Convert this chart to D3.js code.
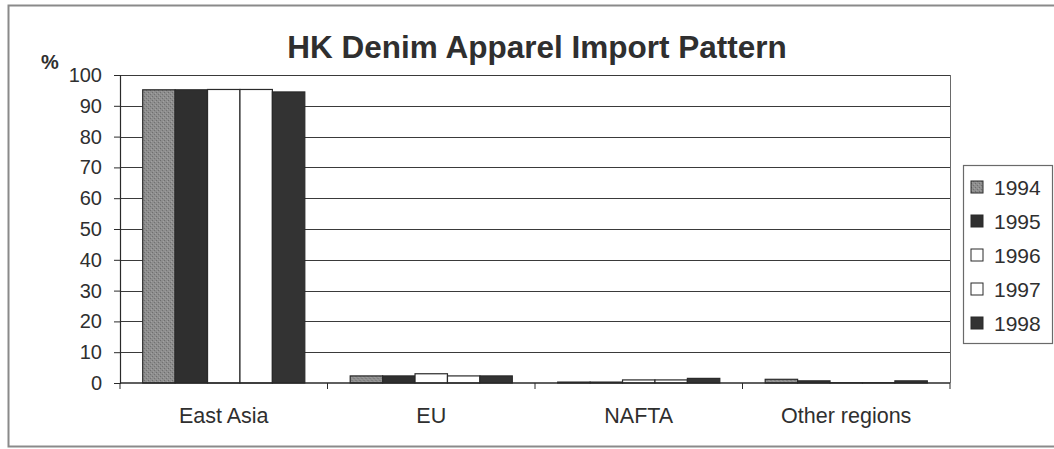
<!DOCTYPE html>
<html>
<head>
<meta charset="utf-8">
<script src="https://cdn.jsdelivr.net/npm/d3@7"></script>
<style>
  html, body { margin: 0; padding: 0; background: #ffffff; }
  svg { display: block; }
  text { font-family: "Liberation Sans", Arial, sans-serif; fill: #2f2f2f; }
</style>
</head>
<body>
<svg id="chart" width="1054" height="449"></svg>
<script>
// Share of Hong Kong denim apparel imports by source region (%)
const categories = ["East Asia", "EU", "NAFTA", "Other regions"];
const years = ["1994", "1995", "1996", "1997", "1998"];
const values1994 = [95.2, 2.3, 0.3, 1.2];
const values1995 = [95.2, 2.3, 0.3, 0.7];
const values1996 = [95.3, 3.0, 1.0, 0.1];
const values1997 = [95.3, 2.3, 1.0, 0.1];
const values1998 = [94.5, 2.3, 1.5, 0.7];
const yTicks = [0, 10, 20, 30, 40, 50, 60, 70, 80, 90, 100];
const titleText = "HK Denim Apparel Import Pattern";
const unitLabel = "%";

const seriesValues = [values1994, values1995, values1996, values1997, values1998];
const rows = categories.map((c, i) => ({
  category: c,
  values: years.map((y, j) => ({ year: y, value: seriesValues[j][i] }))
}));

const svg = d3.select("#chart");
const W = 1054, H = 449;
const plot = { left: 120, right: 950, top: 75, bottom: 383 };

const fills = {
  "1994": "url(#speckle)",
  "1995": "#2f2f2f",
  "1996": "#ffffff",
  "1997": "#ffffff",
  "1998": "#333333"
};

// speckled grey fill for the first series
const defs = svg.append("defs");
const pat = defs.append("pattern")
  .attr("id", "speckle").attr("patternUnits", "userSpaceOnUse")
  .attr("width", 4).attr("height", 4);
pat.append("rect").attr("width", 4).attr("height", 4).attr("fill", "#8e8e8e");
pat.append("rect").attr("x", 0).attr("y", 0).attr("width", 1).attr("height", 1).attr("fill", "#6e6e6e");
pat.append("rect").attr("x", 2).attr("y", 2).attr("width", 1).attr("height", 1).attr("fill", "#727272");
pat.append("rect").attr("x", 3).attr("y", 1).attr("width", 1).attr("height", 1).attr("fill", "#a2a2a2");
pat.append("rect").attr("x", 1).attr("y", 3).attr("width", 1).attr("height", 1).attr("fill", "#9c9c9c");

// outer chart frame
svg.append("rect")
  .attr("x", 8.5).attr("y", 5.5).attr("width", W + 10).attr("height", 441)
  .attr("fill", "#ffffff").attr("stroke", "#8a8a8a").attr("stroke-width", 2);

const x0 = d3.scaleBand().domain(categories).range([plot.left, plot.right]).paddingInner(0).paddingOuter(0);
const x1 = d3.scaleBand().domain(years).range([0, x0.bandwidth()]).paddingInner(0).paddingOuter(0.7);
const y = d3.scaleLinear().domain([0, 100]).range([plot.bottom, plot.top]);

// gridlines
svg.append("g")
  .selectAll("line").data(yTicks.filter(t => t > 0)).join("line")
  .attr("x1", plot.left).attr("x2", plot.right)
  .attr("y1", d => Math.round(y(d)) + 0.5).attr("y2", d => Math.round(y(d)) + 0.5)
  .attr("stroke", "#3a3a3a").attr("stroke-width", 1);

// right edge of plot area
svg.append("line")
  .attr("x1", plot.right + 0.5).attr("x2", plot.right + 0.5)
  .attr("y1", y(100)).attr("y2", plot.bottom)
  .attr("stroke", "#6a6a6a").attr("stroke-width", 1);

// bars
const groups = svg.append("g").selectAll("g").data(rows).join("g")
  .attr("transform", d => `translate(${x0(d.category)},0)`);
groups.selectAll("rect").data(d => d.values).join("rect")
  .attr("x", d => x1(d.year))
  .attr("y", d => y(d.value))
  .attr("width", x1.bandwidth())
  .attr("height", d => y(0) - y(d.value))
  .attr("fill", d => fills[d.year])
  .attr("stroke", "#2a2a2a").attr("stroke-width", 1.2);

// y axis
const yAxis = svg.append("g")
  .attr("transform", `translate(${plot.left},0)`)
  .call(d3.axisLeft(y).tickValues(yTicks).tickSize(6).tickPadding(12).tickFormat(d3.format("d")));
yAxis.select(".domain").attr("stroke", "#2a2a2a").attr("stroke-width", 1.2);
yAxis.selectAll(".tick line").attr("stroke", "#2a2a2a");
yAxis.selectAll(".tick text")
  .style("font-size", "20px").attr("fill", "#2f2f2f")
  .attr("font-family", "Liberation Sans, Arial, sans-serif");

// x axis with ticks at category boundaries
const xAxis = svg.append("g").attr("transform", `translate(0,${plot.bottom})`);
xAxis.append("line")
  .attr("x1", plot.left).attr("x2", plot.right)
  .attr("stroke", "#2a2a2a").attr("stroke-width", 1.4);
const boundaries = categories.map(c => x0(c)).concat([x0(categories[categories.length - 1]) + x0.bandwidth()]);
xAxis.selectAll("line.b").data(boundaries).join("line").attr("class", "b")
  .attr("x1", d => d).attr("x2", d => d).attr("y1", 0).attr("y2", 6)
  .attr("stroke", "#2a2a2a");
xAxis.selectAll("text").data(categories).join("text")
  .attr("x", d => x0(d) + x0.bandwidth() / 2)
  .attr("y", 40)
  .attr("text-anchor", "middle")
  .style("font-size", "21.5px")
  .text(d => d);

// title and unit
svg.append("text")
  .attr("x", 537).attr("y", 58)
  .attr("text-anchor", "middle")
  .style("font-size", "31.5px").style("font-weight", "bold")
  .attr("fill", "#333")
  .text(titleText);
svg.append("text")
  .attr("x", 41).attr("y", 69)
  .style("font-size", "20px").style("font-weight", "bold")
  .text(unitLabel);

// legend
const legend = svg.append("g").attr("transform", "translate(963,165)");
legend.append("rect")
  .attr("x", 0.5).attr("y", 0.5).attr("width", 89).attr("height", 178)
  .attr("fill", "#ffffff").attr("stroke", "#6a6a6a").attr("stroke-width", 1.2);
const items = legend.selectAll("g.item").data(years).join("g").attr("class", "item")
  .attr("transform", (d, i) => `translate(0,${22 + i * 34})`);
items.append("rect")
  .attr("x", 8).attr("y", -6).attr("width", 12).attr("height", 12)
  .attr("fill", d => fills[d]).attr("stroke", "#2a2a2a").attr("stroke-width", 1);
items.append("text")
  .attr("x", 31).attr("y", 8)
  .style("font-size", "21px")
  .text(d => d);
</script>
</body>
</html>
